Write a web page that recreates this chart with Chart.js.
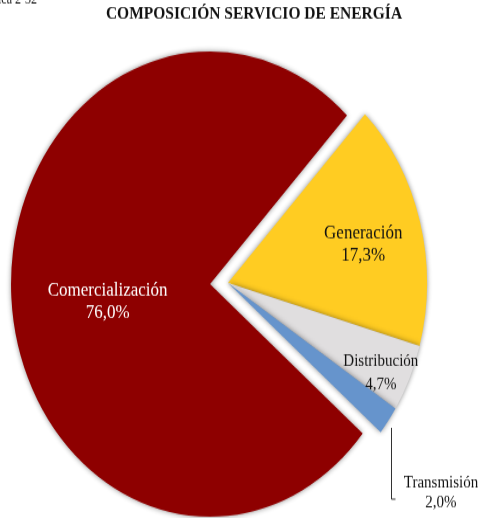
<!DOCTYPE html>
<html>
<head>
<meta charset="utf-8">
<script src="https://cdn.jsdelivr.net/npm/chart.js@4"></script>
<style>
  body { margin: 0; background: #fff; overflow: hidden; }
  #wrap { width: 480px; height: 518px; overflow: hidden; }
  /* the original picture is stretched vertically, so the whole canvas is too */
  #chart { display: block; transform: scaleY(1.169); transform-origin: 0 0; }
</style>
</head>
<body>
<div id="wrap"><canvas id="chart" width="480" height="443"></canvas></div>
<script>
const categories = ["Generación", "Distribución", "Transmisión", "Comercialización"];
const shares = [17.3, 4.7, 2.0, 76.0];
const colors = ["#FFCC22", "#E0DEDF", "#6694CC", "#8E0000"];
const textColors = ["#111", "#111", "#111", "#fff"];
const chartTitle = "COMPOSICIÓN SERVICIO DE ENERGÍA";

const fmt = v => v.toFixed(1).replace(".", ",") + "%";

// how far each slice is pulled out (px), label radius fraction and angle nudge (deg)
const explode = [0, 0, 0, 18];
const labelR = [0.70, 0.86, null, 0.52];
const labelNudge = [1.5, 2.5, 0, -5];

const serif = "'Liberation Serif', 'Times New Roman', serif";

// chart.js v4 "offset" also grows the arc, so move the slice centre instead
const explodePlugin = {
  id: "explode",
  afterDatasetsUpdate(chart) {
    chart.getDatasetMeta(0).data.forEach((arc, i) => {
      if (!explode[i]) return;
      const mid = (arc.startAngle + arc.endAngle) / 2;
      arc.x += Math.cos(mid) * explode[i];
      arc.y += Math.sin(mid) * explode[i];
    });
  }
};

const shadowPlugin = {
  id: "shadow",
  beforeDatasetsDraw(chart) {
    const ctx = chart.ctx;
    ctx.save();
    ctx.shadowColor = "rgba(0,0,0,0.45)";
    ctx.shadowBlur = 5;
  },
  afterDatasetsDraw(chart) {
    chart.ctx.restore();
  }
};

const labelPlugin = {
  id: "sliceLabels",
  afterDraw(chart) {
    const ctx = chart.ctx;
    const arcs = chart.getDatasetMeta(0).data;
    ctx.save();
    ctx.textAlign = "center";
    ctx.textBaseline = "middle";

    ctx.font = "bold 15.5px " + serif;
    ctx.fillStyle = "#111";
    ctx.fillText(chartTitle, 254, 12);

    arcs.forEach((arc, i) => {
      const p = arc.getProps(["x", "y", "startAngle", "endAngle", "outerRadius"], true);
      const mid = (p.startAngle + p.endAngle) / 2 + labelNudge[i] * Math.PI / 180;
      const big = i === 0 || i === 3;
      const gap = big ? 19 : 19.5;
      ctx.font = (big ? 17 : 15) + "px " + serif;
      ctx.fillStyle = textColors[i];
      if (labelR[i] !== null) {
        const lx = p.x + Math.cos(mid) * p.outerRadius * labelR[i];
        const ly = p.y + Math.sin(mid) * p.outerRadius * labelR[i];
        ctx.fillText(categories[i], lx, ly - gap / 2);
        ctx.fillText(fmt(shares[i]), lx, ly + gap / 2);
      } else {
        // small slice: label outside with a leader line
        const ex = p.x + Math.cos(mid) * (p.outerRadius + 2) + 1;
        const ey = p.y + Math.sin(mid) * (p.outerRadius + 2) + 5;
        const bottom = ey + 61;
        const lx = Math.round(ex) + 0.5;
        ctx.strokeStyle = "#333";
        ctx.lineWidth = 1;
        ctx.beginPath();
        ctx.moveTo(lx, ey);
        ctx.lineTo(lx, bottom);
        ctx.lineTo(lx + 4, bottom);
        ctx.stroke();
        ctx.fillText(categories[i], ex + 50, bottom - 14);
        ctx.fillText(fmt(shares[i]), ex + 50, bottom + 3);
      }
    });

    ctx.font = "12px " + serif;
    ctx.textAlign = "left";
    ctx.textBaseline = "alphabetic";
    ctx.fillStyle = "#111";
    ctx.fillText("Gráfica 2-32", -24, 3);
    ctx.restore();
  }
};

new Chart(document.getElementById("chart"), {
  type: "pie",
  data: {
    labels: categories,
    datasets: [{
      data: shares,
      backgroundColor: colors,
      borderWidth: 0,
      clip: false
    }]
  },
  options: {
    responsive: false,
    animation: false,
    rotation: 43.5,
    radius: 199,
    layout: { padding: { left: 0, right: 24, top: 41, bottom: 0 } },
    plugins: {
      legend: { display: false },
      tooltip: { enabled: false },
      title: { display: false }
    }
  },
  plugins: [explodePlugin, shadowPlugin, labelPlugin]
});
</script>
</body>
</html>
